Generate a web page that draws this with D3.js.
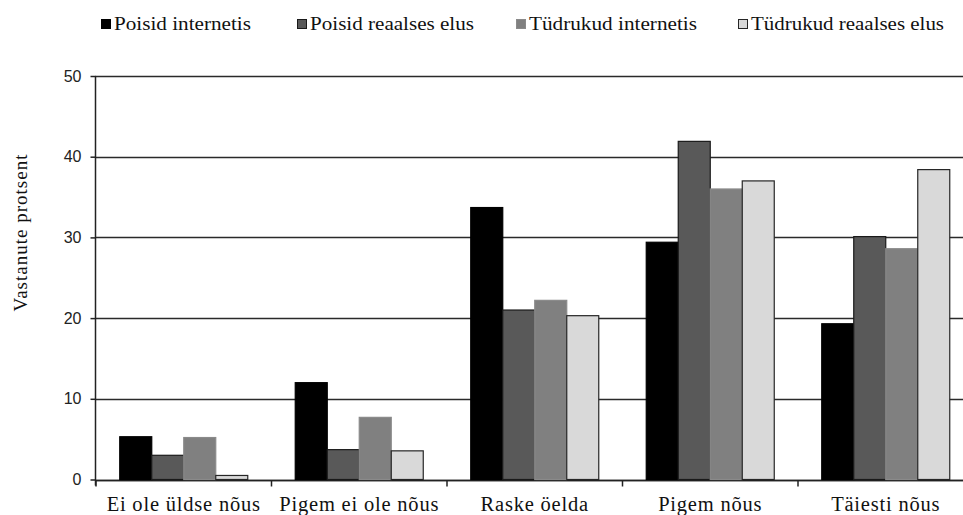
<!DOCTYPE html>
<html>
<head>
<meta charset="utf-8">
<script src="https://cdn.jsdelivr.net/npm/d3@7"></script>
<style>
  html, body { margin: 0; padding: 0; background: #fff; overflow: hidden; }
  svg { display: block; }
</style>
</head>
<body>
<script>
// ---- data ----
const categories = ["Ei ole üldse nõus", "Pigem ei ole nõus", "Raske öelda", "Pigem nõus", "Täiesti nõus"];
const seriesNames = ["Poisid internetis", "Poisid reaalses elus", "Tüdrukud internetis", "Tüdrukud reaalses elus"];
const poisidInternetis   = [5.3, 12.0, 33.7, 29.4, 19.3];
const poisidReaalsesElus = [3.0, 3.7, 21.0, 41.9, 30.1];
const tudrukudInternetis = [5.2, 7.7, 22.2, 36.0, 28.6];
const tudrukudReaalsesElus = [0.5, 3.55, 20.3, 37.0, 38.4];
const yTicks = [0, 10, 20, 30, 40, 50];
const yTitle = "Vastanute  protsent";

const seriesValues = [poisidInternetis, poisidReaalsesElus, tudrukudInternetis, tudrukudReaalsesElus];
const fills   = ["#000000", "#595959", "#808080", "#d9d9d9"];
const strokes = ["#000000", "#1a1a1a", "#8a8a8a", "#262626"];

const W = 963, H = 515;
const svg = d3.select("body").append("svg").attr("width", W).attr("height", H);

const x0 = d3.scaleBand().domain(categories).range([96, 96 + 5 * 175.5]).padding(0);
const x1 = d3.scaleBand().domain(seriesNames).range([0, x0.bandwidth()]).paddingInner(0).paddingOuter(0.742);
const y = d3.scaleLinear().domain([0, 50]).range([479.5, 76]);

// gridlines
svg.append("g").selectAll("line").data(yTicks).join("line")
  .attr("x1", 95).attr("x2", W)
  .attr("y1", d => Math.round(y(d)) + 0.5).attr("y2", d => Math.round(y(d)) + 0.5)
  .attr("stroke", "#2a2a2a").attr("stroke-width", 1.5);

// y axis
const yAxis = d3.axisLeft(y).tickValues(yTicks).tickSize(5).tickPadding(9).tickFormat(d3.format("d"));
const gy = svg.append("g").attr("transform", "translate(95.5,0)").call(yAxis);
gy.select(".domain").attr("d", `M0,${y(50)}V${y(0) + 6}`).attr("stroke", "#222").attr("stroke-width", 1.5);
gy.selectAll(".tick line").attr("stroke", "#222").attr("stroke-width", 1.5);
gy.selectAll(".tick text").attr("font-family", "Liberation Sans, Arial, sans-serif")
  .attr("font-size", 16).attr("fill", "#222");

// x axis
const xAxis = d3.axisBottom(x0).tickSize(0).tickPadding(0);
const gx = svg.append("g").attr("transform", `translate(0,${Math.round(y(0)) + 0.5})`).call(xAxis);
gx.select(".domain").attr("d", `M95,0H${W}`).attr("stroke", "#222").attr("stroke-width", 1.5);
gx.selectAll(".tick text").remove();
// boundary tick marks
const bounds = d3.range(categories.length + 1).map(i => x0.range()[0] + i * x0.step());
gx.selectAll(".bound").data(bounds).join("line").attr("class", "bound")
  .attr("x1", d => d).attr("x2", d => d).attr("y1", 0).attr("y2", 6)
  .attr("stroke", "#222").attr("stroke-width", 1.5);

// category labels
svg.append("g").selectAll("text").data(categories).join("text")
  .attr("x", d => x0(d) + x0.bandwidth() / 2)
  .attr("y", 511)
  .attr("text-anchor", "middle")
  .attr("font-family", "Liberation Serif, 'Times New Roman', serif")
  .attr("font-size", 20.5).attr("fill", "#111")
  .attr("letter-spacing", 0.8)
  .text(d => d);

// bars
const g = svg.append("g");
seriesValues.forEach((vals, si) => {
  g.append("g").selectAll("rect").data(vals).join("rect")
    .attr("x", (d, i) => x0(categories[i]) + x1(seriesNames[si]))
    .attr("width", x1.bandwidth())
    .attr("y", d => y(d))
    .attr("height", d => y(0) - y(d))
    .attr("fill", fills[si])
    .attr("stroke", strokes[si])
    .attr("stroke-width", 1.2);
});

// y title
svg.append("text")
  .attr("transform", "translate(27,233) rotate(-90)")
  .attr("text-anchor", "middle")
  .attr("font-family", "Liberation Serif, 'Times New Roman', serif")
  .attr("font-size", 19).attr("fill", "#111")
  .attr("textLength", 157).attr("lengthAdjust", "spacing")
  .text(yTitle);

// legend
const legendX = [101, 297, 516, 738];
const legendW = [137, 164, 168, 193];
const lg = svg.append("g");
seriesNames.forEach((name, i) => {
  const item = lg.append("g").attr("transform", `translate(${legendX[i]},0)`);
  item.append("rect").attr("x", 0.5).attr("y", 19.5).attr("width", 9).attr("height", 9)
    .attr("fill", fills[i]).attr("stroke", strokes[i]).attr("stroke-width", 1);
  item.append("text").attr("x", 13).attr("y", 29.5)
    .attr("font-family", "Liberation Serif, 'Times New Roman', serif")
    .attr("font-size", 19).attr("fill", "#111")
    .attr("textLength", legendW[i]).attr("lengthAdjust", "spacingAndGlyphs")
    .text(name);
});
</script>
</body>
</html>
